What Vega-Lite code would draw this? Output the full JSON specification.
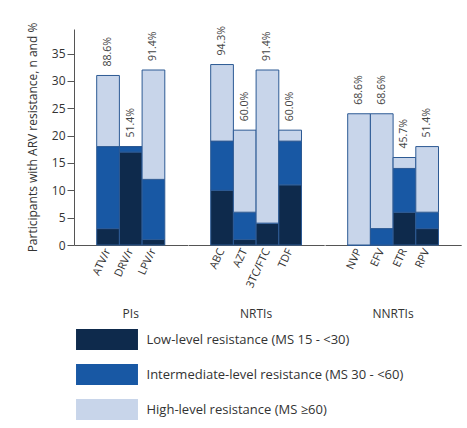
{
  "$schema": "https://vega.github.io/schema/vega-lite/v6.json",
  "padding": {"left": 26, "top": 22, "right": 4, "bottom": 6},
  "background": "white",
  "data": {
    "values": [
      {"class": "PIs", "drug": "ATV/r", "level": "Low-level resistance (MS 15 - <30)", "n": 3, "pct": 0.886},
      {"class": "PIs", "drug": "ATV/r", "level": "Intermediate-level resistance (MS 30 - <60)", "n": 15, "pct": 0.886},
      {"class": "PIs", "drug": "ATV/r", "level": "High-level resistance (MS ≥60)", "n": 13, "pct": 0.886},
      {"class": "PIs", "drug": "DRV/r", "level": "Low-level resistance (MS 15 - <30)", "n": 17, "pct": 0.514},
      {"class": "PIs", "drug": "DRV/r", "level": "Intermediate-level resistance (MS 30 - <60)", "n": 1, "pct": 0.514},
      {"class": "PIs", "drug": "DRV/r", "level": "High-level resistance (MS ≥60)", "n": 0, "pct": 0.514},
      {"class": "PIs", "drug": "LPV/r", "level": "Low-level resistance (MS 15 - <30)", "n": 1, "pct": 0.914},
      {"class": "PIs", "drug": "LPV/r", "level": "Intermediate-level resistance (MS 30 - <60)", "n": 11, "pct": 0.914},
      {"class": "PIs", "drug": "LPV/r", "level": "High-level resistance (MS ≥60)", "n": 20, "pct": 0.914},
      {"class": "NRTIs", "drug": "ABC", "level": "Low-level resistance (MS 15 - <30)", "n": 10, "pct": 0.943},
      {"class": "NRTIs", "drug": "ABC", "level": "Intermediate-level resistance (MS 30 - <60)", "n": 9, "pct": 0.943},
      {"class": "NRTIs", "drug": "ABC", "level": "High-level resistance (MS ≥60)", "n": 14, "pct": 0.943},
      {"class": "NRTIs", "drug": "AZT", "level": "Low-level resistance (MS 15 - <30)", "n": 1, "pct": 0.6},
      {"class": "NRTIs", "drug": "AZT", "level": "Intermediate-level resistance (MS 30 - <60)", "n": 5, "pct": 0.6},
      {"class": "NRTIs", "drug": "AZT", "level": "High-level resistance (MS ≥60)", "n": 15, "pct": 0.6},
      {"class": "NRTIs", "drug": "3TC/FTC", "level": "Low-level resistance (MS 15 - <30)", "n": 4, "pct": 0.914},
      {"class": "NRTIs", "drug": "3TC/FTC", "level": "Intermediate-level resistance (MS 30 - <60)", "n": 0, "pct": 0.914},
      {"class": "NRTIs", "drug": "3TC/FTC", "level": "High-level resistance (MS ≥60)", "n": 28, "pct": 0.914},
      {"class": "NRTIs", "drug": "TDF", "level": "Low-level resistance (MS 15 - <30)", "n": 11, "pct": 0.6},
      {"class": "NRTIs", "drug": "TDF", "level": "Intermediate-level resistance (MS 30 - <60)", "n": 8, "pct": 0.6},
      {"class": "NRTIs", "drug": "TDF", "level": "High-level resistance (MS ≥60)", "n": 2, "pct": 0.6},
      {"class": "NNRTIs", "drug": "NVP", "level": "Low-level resistance (MS 15 - <30)", "n": 0, "pct": 0.686},
      {"class": "NNRTIs", "drug": "NVP", "level": "Intermediate-level resistance (MS 30 - <60)", "n": 0, "pct": 0.686},
      {"class": "NNRTIs", "drug": "NVP", "level": "High-level resistance (MS ≥60)", "n": 24, "pct": 0.686},
      {"class": "NNRTIs", "drug": "EFV", "level": "Low-level resistance (MS 15 - <30)", "n": 0, "pct": 0.686},
      {"class": "NNRTIs", "drug": "EFV", "level": "Intermediate-level resistance (MS 30 - <60)", "n": 3, "pct": 0.686},
      {"class": "NNRTIs", "drug": "EFV", "level": "High-level resistance (MS ≥60)", "n": 21, "pct": 0.686},
      {"class": "NNRTIs", "drug": "ETR", "level": "Low-level resistance (MS 15 - <30)", "n": 6, "pct": 0.457},
      {"class": "NNRTIs", "drug": "ETR", "level": "Intermediate-level resistance (MS 30 - <60)", "n": 8, "pct": 0.457},
      {"class": "NNRTIs", "drug": "ETR", "level": "High-level resistance (MS ≥60)", "n": 2, "pct": 0.457},
      {"class": "NNRTIs", "drug": "RPV", "level": "Low-level resistance (MS 15 - <30)", "n": 3, "pct": 0.514},
      {"class": "NNRTIs", "drug": "RPV", "level": "Intermediate-level resistance (MS 30 - <60)", "n": 3, "pct": 0.514},
      {"class": "NNRTIs", "drug": "RPV", "level": "High-level resistance (MS ≥60)", "n": 12, "pct": 0.514}
    ]
  },
  "facet": {
    "column": {
      "field": "class",
      "type": "nominal",
      "sort": ["PIs", "NRTIs", "NNRTIs"],
      "header": {
        "title": null,
        "labelOrient": "bottom",
        "labelFont": "Open Sans",
        "labelFontSize": 12,
        "labelColor": "#333333",
        "labelPadding": 19
      }
    }
  },
  "spacing": 0,
  "resolve": {"scale": {"x": "independent"}},
  "spec": {
    "width": {"step": 22.7},
    "height": 216,
    "encoding": {
      "x": {
        "field": "drug",
        "type": "nominal",
        "sort": null,
        "scale": {"paddingInner": 0, "paddingOuter": 1},
        "axis": {
          "title": null,
          "labelAngle": -65,
          "labelFont": "Open Sans",
          "labelFontSize": 11,
          "labelColor": "#333333",
          "ticks": false,
          "labelPadding": 4,
          "domainColor": "#555555"
        }
      },
      "y": {
        "field": "n",
        "type": "quantitative",
        "scale": {"domain": [0, 39.5], "nice": false},
        "axis": {
          "title": "Participants with ARV resistance, n and %",
          "titleFont": "Open Sans",
          "titleFontSize": 12,
          "titleFontWeight": "normal",
          "titleColor": "#333333",
          "titlePadding": 12,
          "values": [0, 5, 10, 15, 20, 25, 30, 35],
          "labelFont": "Open Sans",
          "labelFontSize": 12,
          "labelColor": "#333333",
          "labelOverlap": false,
          "tickSize": 7,
          "tickColor": "#555555",
          "domainColor": "#555555",
          "grid": false
        }
      }
    },
    "layer": [
      {
        "mark": {"type": "bar", "stroke": "#2d5a94", "strokeWidth": 1},
        "encoding": {
          "y": {
            "field": "n",
            "type": "quantitative",
            "stack": "zero"
          },
          "color": {
            "field": "level",
            "type": "nominal",
            "scale": {
              "domain": [
                "Low-level resistance (MS 15 - <30)",
                "Intermediate-level resistance (MS 30 - <60)",
                "High-level resistance (MS ≥60)"
              ],
              "range": ["#0e2a4c", "#1858a4", "#c8d5ea"]
            },
            "legend": {
              "title": null,
              "orient": "bottom",
              "direction": "vertical",
              "offset": 9,
              "symbolType": "M-2.95,-1L2.95,-1L2.95,1L-2.95,1Z",
              "symbolSize": 441,
              "symbolOffset": 22.5,
              "symbolStrokeWidth": 0,
              "symbolOpacity": 1,
              "labelFont": "Open Sans",
              "labelFontSize": 13,
              "labelColor": "#333333",
              "labelOffset": 29,
              "rowPadding": 14,
              "labelLimit": 400
            }
          },
          "order": {"field": "level", "sort": "descending"}
        }
      },
      {
        "transform": [
          {
            "aggregate": [
              {"op": "sum", "field": "n", "as": "n"},
              {"op": "max", "field": "pct", "as": "pct"}
            ],
            "groupby": ["class", "drug"]
          }
        ],
        "mark": {
          "type": "text",
          "angle": 270,
          "align": "left",
          "baseline": "middle",
          "dx": 9,
          "font": "Open Sans",
          "fontSize": 10.5,
          "color": "#444444"
        },
        "encoding": {
          "text": {"field": "pct", "type": "quantitative", "format": ".1%"}
        }
      }
    ]
  },
  "config": {
    "view": {"stroke": null},
    "axis": {"labelFont": "Open Sans"}
  }
}
